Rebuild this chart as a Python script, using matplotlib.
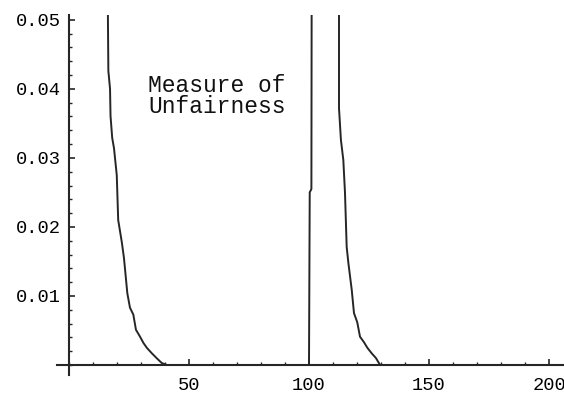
import matplotlib
matplotlib.use("Agg")
import matplotlib.pyplot as plt
from matplotlib.ticker import MultipleLocator, FixedLocator

# ---- data ----
left_x = [16.2, 16.4, 17.1, 17.3, 18.0, 18.75, 19.9, 20.5, 22.0, 22.9, 24.3,
          25.4, 26.8, 27.9, 29.6, 31.0, 32.4, 34.5, 36.5, 38.6, 40.7, 49.7]
left_y = [0.0510, 0.0426, 0.0400, 0.0361, 0.0329, 0.0314, 0.0275, 0.0210, 0.0178,
          0.0155, 0.0104, 0.0083, 0.0073, 0.0051, 0.0041, 0.0032, 0.0025,
          0.0017, 0.0010, 0.0003, 0.0, 0.0]

spike_x = [100.0, 100.3, 101.0, 101.1]
spike_y = [0.0, 0.0250, 0.0255, 0.0510]

right_x = [112.5, 112.5, 113.3, 114.3, 115.0, 115.7, 116.4, 117.8, 118.75,
           120.1, 121.25, 122.9, 124.3, 126.1, 127.9, 129.6, 135.8]
right_y = [0.0510, 0.0372, 0.0326, 0.0297, 0.0249, 0.0171, 0.0148, 0.0109,
           0.0075, 0.0062, 0.0041, 0.0033, 0.0025, 0.0017, 0.0010, 0.0, 0.0]

x_ticks = [50, 100, 150, 200]
y_ticks = [0.01, 0.02, 0.03, 0.04, 0.05]
y_tick_labels = ["0.01", "0.02", "0.03", "0.04", "0.05"]
label_text = "Measure of\nUnfairness"

W, H = 564, 398
fig = plt.figure(figsize=(W / 100, H / 100), dpi=100)
# axes box in pixels: left 57, right 564, top 15, bottom 375
ax = fig.add_axes([57 / W, (H - 375) / H, (564 - 57) / W, (375 - 15) / H])
ax.set_xlim(-5, 206.25)
ax.set_ylim(-0.00145, 0.0507)

line_color = "#262626"
for xs, ys in [(left_x, left_y), (spike_x, spike_y), (right_x, right_y)]:
    ax.plot(xs, ys, color=line_color, lw=1.4, solid_joinstyle="miter")

for s in ["top", "right"]:
    ax.spines[s].set_visible(False)
ax.spines["left"].set_position(("data", 0))
ax.spines["bottom"].set_position(("data", 0))
for s in ["left", "bottom"]:
    ax.spines[s].set_color(line_color)
    ax.spines[s].set_linewidth(1.5)

mono = "Liberation Mono"
ax.xaxis.set_major_locator(FixedLocator(x_ticks))
ax.xaxis.set_minor_locator(MultipleLocator(10))
ax.yaxis.set_major_locator(FixedLocator(y_ticks))
ax.yaxis.set_minor_locator(MultipleLocator(0.002))
ax.set_xticklabels([str(t) for t in x_ticks], fontfamily=mono, fontsize=13.5)
ax.set_yticklabels(y_tick_labels, fontfamily=mono, fontsize=13.5)
ax.tick_params(which="major", direction="in", length=4, width=1.2, color=line_color)
ax.tick_params(which="minor", direction="in", length=2.5, width=1.0, color=line_color)
ax.tick_params(axis="x", which="major", pad=9)
ax.tick_params(axis="y", which="major", pad=6)

ax.text(32.9, 0.0422, label_text, fontfamily=mono, fontsize=16.5,
        ha="left", va="top", linespacing=0.9, color="#111111")

fig.savefig("out.png", dpi=100)
